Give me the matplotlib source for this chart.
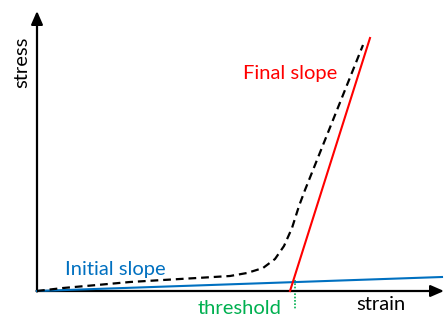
import matplotlib
matplotlib.use("Agg")
import matplotlib.pyplot as plt

plt.rcParams['font.family'] = ['Lato', 'DejaVu Sans']

# measured curve (strain, stress) in arbitrary units
strain_curve = [0, 26, 60, 93, 126, 160, 193, 210, 226, 238, 247, 255, 262, 268, 326]
stress_curve = [0, 3, 6, 9, 11, 13, 15, 18, 23, 32, 45, 63, 85, 101, 246]

# fitted slopes
initial_x = [0, 405]
initial_y = [0, 14]
final_x = [253, 333]
final_y = [0, 253]

threshold_x = 258
threshold_y = [11, -19]

fig = plt.figure(figsize=(4.45, 3.16), dpi=100)
ax = fig.add_axes([0, 0, 1, 1])
ax.set_xlim(-37, 408)
ax.set_ylim(-25, 291)
ax.axis('off')

# axes with arrows
arrow = dict(arrowstyle='-|>,head_length=0.8,head_width=0.35', color='black', lw=1.6,
             shrinkA=0, shrinkB=0)
ax.annotate('', xy=(0, 280), xytext=(0, -0.5), arrowprops=arrow)
ax.annotate('', xy=(407, 0), xytext=(-0.5, 0), arrowprops=arrow)

ax.plot(initial_x, initial_y, color='#0070C0', lw=1.5, zorder=3)
ax.plot(final_x, final_y, color='#FF0000', lw=1.5, zorder=3)
ax.plot(strain_curve, stress_curve, color='black', lw=1.6, ls=(0, (3.5, 2.2)), zorder=4)
ax.plot([threshold_x, threshold_x], threshold_y, color='#00B050', lw=1.2, ls=(0, (1, 1)), zorder=2)

fs = 14.5
ax.text(-15, 229, 'stress', rotation=90, ha='center', va='center', fontsize=fs, color='black')
ax.text(344, -14, 'strain', ha='center', va='center', fontsize=fs, color='black')
ax.text(253, 218, 'Final slope', ha='center', va='center', fontsize=fs, color='#FF0000')
ax.text(78, 22, 'Initial slope', ha='center', va='center', fontsize=fs, color='#0070C0')
ax.text(203, -17, 'threshold', ha='center', va='center', fontsize=fs, color='#00B050')

fig.savefig('out.png', dpi=100)
